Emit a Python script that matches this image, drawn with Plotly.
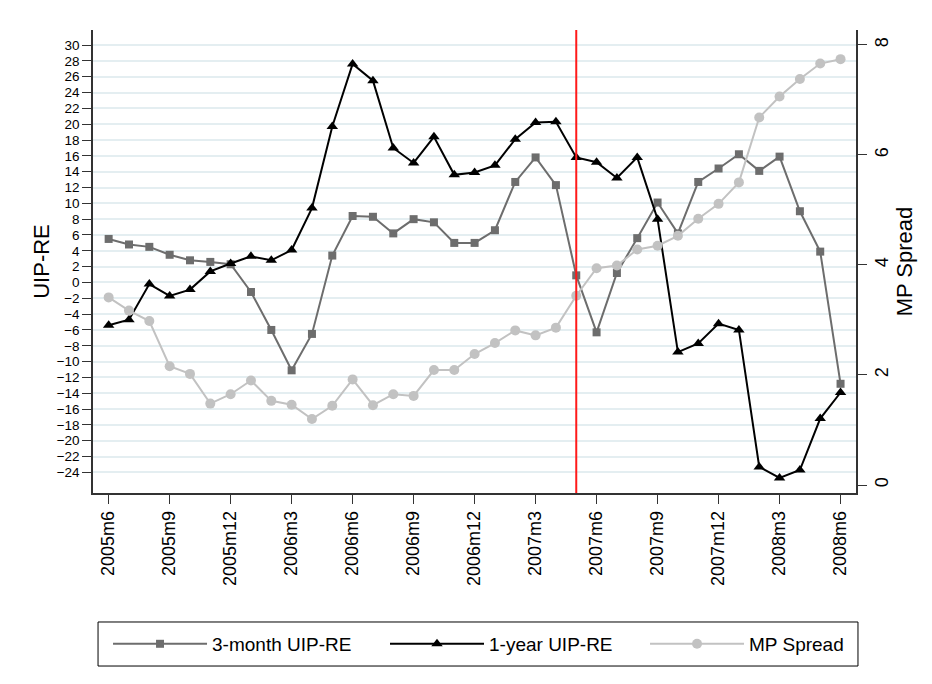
import plotly.graph_objects as go

months = []
for y in (2005, 2006, 2007, 2008):
    for m in range(1, 13):
        if (y, m) >= (2005, 6) and (y, m) <= (2008, 6):
            months.append('%dm%d' % (y, m))

uip_3m = [5.5, 4.8, 4.5, 3.5, 2.8, 2.6, 2.3, -1.2, -6.0, -11.1, -6.5, 3.4,
          8.4, 8.3, 6.2, 8.0, 7.6, 5.0, 5.0, 6.6, 12.7, 15.8, 12.3, 0.9,
          -6.3, 1.2, 5.6, 10.1, 6.2, 12.7, 14.4, 16.2, 14.1, 15.9, 9.0, 3.9,
          -12.8]
uip_1y = [-5.4, -4.7, -0.2, -1.7, -0.9, 1.4, 2.4, 3.3, 2.8, 4.1, 9.4, 19.7,
          27.6, 25.5, 17.0, 15.1, 18.4, 13.6, 13.9, 14.8, 18.1, 20.2, 20.3, 15.8,
          15.2, 13.2, 15.8, 8.0, -8.8, -7.7, -5.2, -6.0, -23.3, -24.7, -23.7, -17.2,
          -13.9]
mp_spread = [3.41, 3.17, 2.98, 2.16, 2.02, 1.48, 1.65, 1.90, 1.53, 1.46, 1.20, 1.44,
             1.92, 1.45, 1.65, 1.62, 2.09, 2.09, 2.38, 2.58, 2.81, 2.72, 2.86, 3.44,
             3.94, 3.99, 4.28, 4.35, 4.53, 4.84, 5.11, 5.50, 6.68, 7.06, 7.38, 7.66,
             7.74]
break_month = '2007m5'

x = list(range(len(months)))
font = 'Liberation Sans, Arial, Helvetica, sans-serif'

fig = go.Figure()
fig.add_trace(go.Scatter(x=x, y=uip_3m, mode='lines+markers', name='3-month UIP-RE',
                         line=dict(color='#6d6d6d', width=2),
                         marker=dict(symbol='square', size=8, color='#6d6d6d'),
                         legend='legend'))
fig.add_trace(go.Scatter(x=x, y=uip_1y, mode='lines+markers', name='1-year UIP-RE',
                         line=dict(color='black', width=2),
                         marker=dict(symbol='triangle-up', size=10, color='black'),
                         legend='legend2'))
fig.add_trace(go.Scatter(x=x, y=mp_spread, mode='lines+markers', name='MP Spread',
                         yaxis='y2',
                         line=dict(color='#c2c2c2', width=2),
                         marker=dict(symbol='circle', size=10, color='#c2c2c2'),
                         legend='legend3'))

# policy break
bx = months.index(break_month)
fig.add_shape(type='line', xref='x', yref='paper', x0=bx, x1=bx, y0=0, y1=1,
              line=dict(color='#ff1a1a', width=2))

# frame around the three legend entries
fig.add_shape(type='rect', xref='paper', yref='paper', x0=0.0066, x1=1.0026,
              y0=-0.3737, y1=-0.2786, line=dict(color='black', width=1))

leg = dict(orientation='h', y=-0.326, yanchor='middle', xanchor='left',
           font=dict(size=19), itemwidth=94, bgcolor='rgba(0,0,0,0)')

# page body adds an 8px margin, so the figure is a bit smaller than the window
fig.update_layout(
    width=924, height=676,
    margin=dict(l=85, r=76, t=22, b=191),
    plot_bgcolor='white', paper_bgcolor='white',
    font=dict(family=font, size=18, color='black'),
    showlegend=True,
    xaxis=dict(range=[-0.77, 36.76], tickvals=x[::3], ticktext=months[::3],
               tickangle=-90, tickfont=dict(size=18), ticks='outside', ticklen=9,
               tickcolor='#333', showgrid=False, zeroline=False,
               showline=True, linecolor='#333', linewidth=1.5),
    yaxis=dict(title=dict(text='UIP-RE', standoff=1), range=[-26.6, 31.9],
               tickvals=list(range(-24, 31, 2)), tickfont=dict(size=13.5),
               ticks='outside', ticklen=9, tickcolor='#333',
               showgrid=True, gridcolor='#e4eef1', gridwidth=1.5, zeroline=False,
               showline=True, linecolor='#333', linewidth=1.5),
    yaxis2=dict(title=dict(text='MP Spread', standoff=4), overlaying='y', side='right',
                range=[-0.145, 8.27], tickvals=[0, 2, 4, 6, 8], tickangle=-90,
                tickfont=dict(size=18), ticks='outside', ticklen=9, tickcolor='#333',
                showgrid=False, zeroline=False,
                showline=True, linecolor='#333', linewidth=1.5),
    legend=dict(leg, x=0.0197),
    legend2=dict(leg, x=0.3827),
    legend3=dict(leg, x=0.7235),
)

fig.write_html('out.html')
